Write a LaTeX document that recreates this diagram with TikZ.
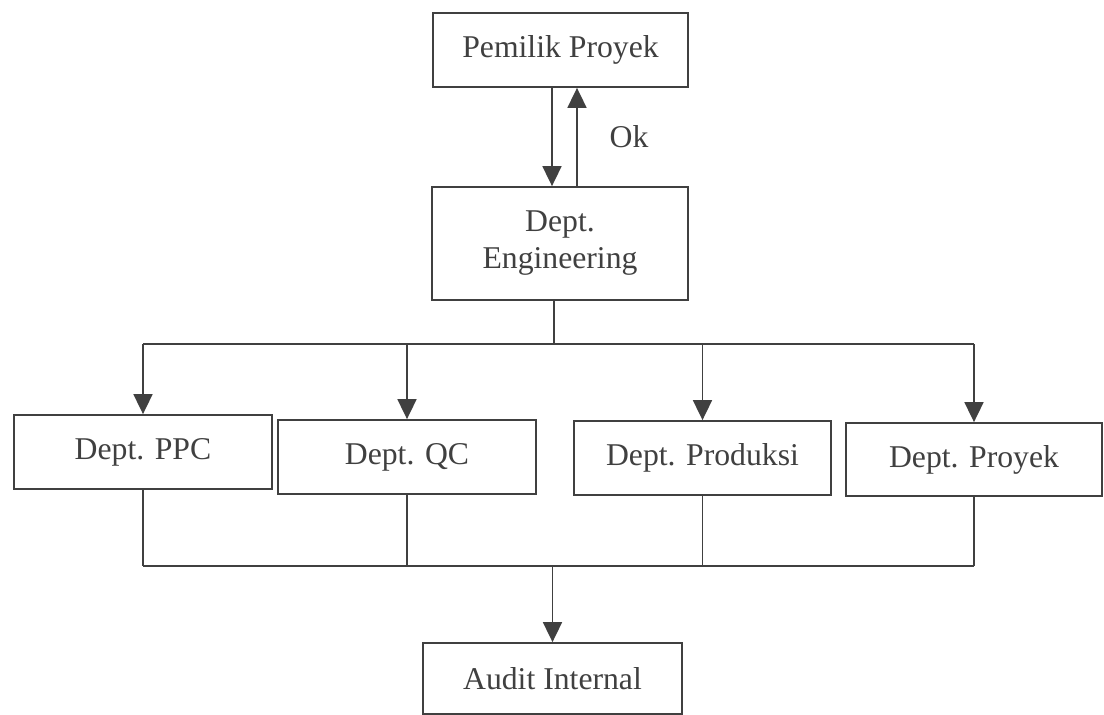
\documentclass[tikz,border=0pt]{standalone}
\usepackage{fontspec}
\setmainfont{Liberation Serif}
\usetikzlibrary{arrows.meta}
\definecolor{ink}{gray}{0.25}
\tikzset{
  box/.style={draw=ink, line width=1.8pt, fill=white, inner sep=0pt, text=ink,
    font=\fontsize{31.7}{37}\selectfont, align=center},
  conn/.style={draw=ink, line width=1.8pt},
  arr/.style={conn, -{Triangle[width=19pt,length=20pt]}},
  lbl/.style={text=ink, inner sep=0pt, font=\fontsize{31.7}{37}\selectfont}
}
\begin{document}
\begin{tikzpicture}[x=1pt,y=-1pt]
\useasboundingbox[fill=white] (0,0) rectangle (1104,715);
% boxes
\node[box, minimum width=255pt, minimum height=74pt] (pem) at (560.5,50) {Pemilik Proyek};
\node[box, minimum width=256pt, minimum height=113pt] (eng) at (560,243.5) {Dept.\\Engineering};
\node[box, minimum width=258pt, minimum height=74pt] (ppc) at (143,452) {Dept. PPC};
\node[box, minimum width=258pt, minimum height=74pt] (qc) at (407,457) {Dept. QC};
\node[box, minimum width=257pt, minimum height=74pt] (prod) at (702.5,458) {Dept. Produksi};
\node[box, minimum width=256pt, minimum height=73pt] (proy) at (974,459.5) {Dept. Proyek};
\node[box, minimum width=259pt, minimum height=71pt] (aud) at (552.5,678.5) {Audit Internal};
% top link
\draw[arr] ([xshift=-8.5pt]pem.south) -- ([xshift=-8pt]eng.north);
\draw[arr] ([xshift=17pt]eng.north) -- ([xshift=16.5pt]pem.south);
\node[lbl] (ok) at (629,137) {Ok};
% distribution bus
\coordinate (j1) at (554,344);
\coordinate (tl) at (143,344);
\coordinate (tr) at (974,344);
\draw[conn] ([xshift=-6pt]eng.south) -- (j1);
\draw[conn] (tl) -- (tr);
\draw[arr] (tl) -- (ppc.north);
\draw[arr] (tl -| qc.north) -- (qc.north);
\draw[arr] (tl -| prod.north) -- (prod.north);
\draw[arr] (tr) -- (proy.north);
% collection bus
\coordinate (bl) at (143,566);
\coordinate (br) at (974,566);
\coordinate (j2) at (552.5,566);
\draw[conn] (ppc.south) -- (bl);
\draw[conn] (qc.south) -- (bl -| qc.south);
\draw[conn] (prod.south) -- (bl -| prod.south);
\draw[conn] (proy.south) -- (br);
\draw[conn] (bl) -- (br);
\draw[arr] (j2) -- (aud.north);
\end{tikzpicture}
\end{document}
